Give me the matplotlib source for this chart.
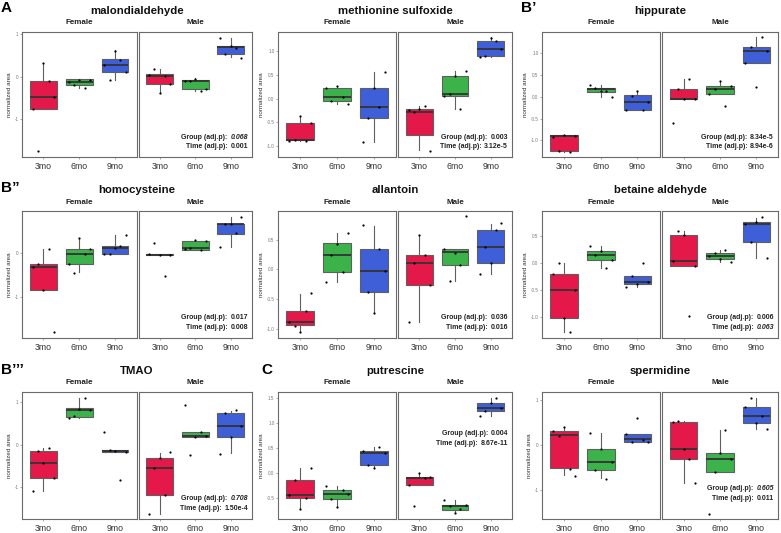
import matplotlib
matplotlib.use("Agg")
import matplotlib.pyplot as plt

plt.rcParams['font.family'] = ['Liberation Sans', 'DejaVu Sans']

# ---------------- data ----------------
groups = ['3mo', '6mo', '9mo']
sexes = ['Female', 'Male']
# order within each list: Female 3mo, 6mo, 9mo, Male 3mo, 6mo, 9mo
# box stats: [lower whisker, Q1, median, Q3, upper whisker]

mda_box = [[-0.75, -0.75, -0.49, -0.10, 0.31], [-0.27, -0.20, -0.12, -0.06, -0.06], [-0.08, 0.10, 0.28, 0.41, 0.63],
           [-0.39, -0.18, 0.02, 0.06, 0.17], [-0.33, -0.28, -0.10, -0.09, -0.04], [0.46, 0.53, 0.69, 0.71, 0.91]]
mda_pts = [[-0.75, -1.76, 0.31, -0.11, -0.49], [-0.12, -0.19, -0.08, -0.27, -0.08], [0.28, -0.08, 0.61, 0.39, 0.11],
           [0.04, 0.18, -0.39, 0.02, -0.17], [-0.10, -0.10, -0.06, -0.33, -0.28], [0.92, 0.53, 0.71, 0.67, 0.45]]
mda_ylim = (-1.89, 1.05)
mda_ticks = [-1, 0, 1]

mets_box = [[-0.90, -0.88, -0.87, -0.51, -0.37], [-0.11, -0.05, 0.03, 0.22, 0.26], [-0.91, -0.40, -0.17, 0.22, 0.57],
            [-1.09, -0.76, -0.28, -0.22, -0.15], [-0.21, 0.06, 0.09, 0.48, 0.59], [0.88, 0.91, 1.06, 1.23, 1.30]]
mets_pts = [[-0.90, -0.87, -0.37, -0.89, -0.52], [0.22, -0.04, 0.26, 0.03, -0.11], [-0.92, -0.40, 0.22, -0.17, 0.57],
            [-0.24, -0.28, -0.22, -0.15, -1.10], [0.06, 0.09, 0.49, -0.21, 0.59], [0.88, 0.91, 1.28, 1.23, 1.06]]
mets_ylim = (-1.23, 1.41)
mets_ticks = [-1.0, -0.5, 0.0, 0.5, 1.0]

hipp_box = [[-1.26, -1.25, -0.90, -0.88, -0.88], [0.00, 0.10, 0.17, 0.19, 0.27], [-0.31, -0.31, -0.12, 0.04, 0.14],
            [-0.06, -0.06, -0.06, 0.17, 0.40], [0.06, 0.06, 0.17, 0.25, 0.37], [0.78, 0.78, 1.05, 1.14, 1.37]]
hipp_pts = [[-0.92, -1.25, -0.88, -1.26, -0.90], [0.27, 0.19, 0.14, 0.12, 0.00], [-0.31, 0.02, 0.14, -0.31, -0.12],
            [-0.60, 0.17, -0.06, 0.40, -0.06], [0.06, 0.17, 0.37, -0.22, 0.25], [0.78, 1.13, 0.22, 1.37, 1.05]]
hipp_ylim = (-1.38, 1.48)
hipp_ticks = [-1.0, -0.5, 0.0, 0.5, 1.0]

hcy_box = [[-0.83, -0.83, -0.32, -0.25, 0.08], [-0.44, -0.25, -0.02, 0.08, 0.32], [-0.02, -0.02, 0.11, 0.15, 0.39],
           [-0.06, -0.06, -0.04, -0.03, -0.03], [0.06, 0.06, 0.11, 0.26, 0.29], [0.13, 0.43, 0.64, 0.65, 0.80]]
hcy_pts = [[-0.32, -0.26, -0.83, 0.09, -1.79], [-0.25, -0.45, 0.33, -0.02, 0.08], [-0.02, -0.03, 0.11, 0.15, 0.41],
           [-0.03, 0.23, -0.04, -0.53, -0.06], [0.08, 0.11, 0.29, 0.06, 0.26], [0.13, 0.64, 0.65, 0.44, 0.80]]
hcy_ylim = (-1.92, 0.94)
hcy_ticks = [-1, 0]

alla_box = [[-1.06, -0.94, -0.89, -0.71, -0.41], [-0.21, -0.05, 0.25, 0.44, 0.62], [-0.73, -0.38, -0.02, 0.34, 0.73],
            [-0.89, -0.26, 0.11, 0.25, 0.59], [-0.19, 0.07, 0.29, 0.35, 0.35], [-0.07, 0.11, 0.38, 0.67, 0.77]]
alla_pts = [[-0.89, -0.95, -1.06, -0.71, -0.40], [-0.21, 0.25, 0.43, -0.05, 0.62], [0.75, -0.38, -0.73, 0.34, -0.02],
            [-0.89, 0.11, 0.59, 0.25, -0.26], [0.35, -0.19, 0.28, 0.07, 0.90], [-0.07, 0.38, 0.11, 0.67, 0.79]]
alla_ylim = (-1.16, 0.99)
alla_ticks = [-1.0, -0.5, 0.0, 0.5]

bet_box = [[-1.29, -1.02, -0.50, -0.20, 0.00], [-0.09, 0.06, 0.14, 0.22, 0.32], [-0.45, -0.40, -0.35, -0.24, -0.24],
           [-0.06, -0.06, 0.04, 0.52, 0.59], [0.02, 0.07, 0.13, 0.19, 0.25], [0.09, 0.39, 0.72, 0.76, 0.84]]
bet_pts = [[-0.20, 0.00, -1.02, -1.29, -0.50], [0.32, 0.14, 0.22, -0.09, 0.06], [-0.45, -0.25, -0.40, 0.00, -0.35],
           [0.04, 0.59, 0.52, -0.99, -0.06], [0.13, 0.19, 0.07, 0.25, 0.02], [0.72, 0.39, 0.76, 0.86, 0.09]]
bet_ylim = (-1.40, 0.97)
bet_ticks = [-1.0, -0.5, 0.0, 0.5]

tmao_box = [[-1.09, -0.79, -0.43, -0.16, -0.08], [0.63, 0.65, 0.81, 0.87, 1.10], [-0.18, -0.18, -0.16, -0.13, -0.13],
            [-1.64, -1.18, -0.54, -0.31, -0.20], [0.17, 0.17, 0.20, 0.30, 0.30], [-0.20, 0.19, 0.45, 0.75, 0.80]]
tmao_pts = [[-1.09, -0.16, -0.43, -0.08, -0.79], [0.63, 0.67, 0.84, 1.10, 0.81], [0.29, -0.13, -0.16, -0.83, -0.17],
            [-1.64, -0.54, -0.31, -1.18, -0.18], [0.93, -0.24, 0.17, 0.30, 0.20], [-0.21, 0.75, 0.17, 0.81, 0.45]]
tmao_ylim = (-1.75, 1.24)
tmao_ticks = [-1, 0, 1]

put_box = [[-0.72, -0.50, -0.43, -0.13, 0.11], [-0.68, -0.51, -0.41, -0.33, -0.26], [0.11, 0.16, 0.40, 0.43, 0.51],
           [-0.24, -0.23, -0.10, -0.07, 0.00], [-0.79, -0.73, -0.65, -0.63, -0.54], [1.14, 1.23, 1.29, 1.40, 1.50]]
put_pts = [[-0.43, -0.13, -0.72, -0.50, 0.11], [-0.26, -0.51, -0.68, -0.33, -0.41], [0.43, 0.16, 0.11, 0.51, 0.40],
           [-0.24, -0.66, 0.00, -0.10, -0.07], [-0.53, -0.65, -0.80, -0.72, -0.63], [1.14, 1.23, 1.40, 1.50, 1.29]]
put_ylim = (-0.91, 1.61)
put_ticks = [-0.5, 0.0, 0.5, 1.0, 1.5]

spd_box = [[-0.67, -0.52, 0.21, 0.30, 0.39], [-0.74, -0.56, -0.37, -0.09, 0.26], [0.06, 0.06, 0.12, 0.25, 0.25],
           [-0.84, -0.32, -0.09, 0.50, 0.52], [-0.61, -0.61, -0.31, -0.19, 0.33], [0.36, 0.48, 0.65, 0.84, 1.04]]
spd_pts = [[0.30, 0.20, 0.39, -0.53, -0.68], [0.27, -0.56, -0.09, -0.76, -0.37], [0.25, 0.06, 0.59, 0.11, 0.06],
           [0.50, 0.52, -0.09, -0.32, -0.84], [-1.52, -0.61, -0.19, 0.33, -0.31], [0.84, 1.04, 0.48, 0.65, 0.36]]
spd_ylim = (-1.64, 1.17)
spd_ticks = [-1, 0, 1]

# p-values: (text, italic)
mda_p = [('0.068', True), ('0.001', False)]
mets_p = [('0.003', False), ('3.12e-5', False)]
hipp_p = [('8.34e-5', False), ('8.94e-6', False)]
hcy_p = [('0.017', False), ('0.008', False)]
alla_p = [('0.036', False), ('0.016', False)]
bet_p = [('0.006', False), ('0.063', True)]
tmao_p = [('0.708', True), ('1.50e-4', False)]
put_p = [('0.004', False), ('8.67e-11', False)]
spd_p = [('0.605', True), ('0.011', False)]

panels = [
    ('malondialdehyde', mda_box, mda_pts, mda_ylim, mda_ticks, mda_p),
    ('methionine sulfoxide', mets_box, mets_pts, mets_ylim, mets_ticks, mets_p),
    ('hippurate', hipp_box, hipp_pts, hipp_ylim, hipp_ticks, hipp_p),
    ('homocysteine', hcy_box, hcy_pts, hcy_ylim, hcy_ticks, hcy_p),
    ('allantoin', alla_box, alla_pts, alla_ylim, alla_ticks, alla_p),
    ('betaine aldehyde', bet_box, bet_pts, bet_ylim, bet_ticks, bet_p),
    ('TMAO', tmao_box, tmao_pts, tmao_ylim, tmao_ticks, tmao_p),
    ('putrescine', put_box, put_pts, put_ylim, put_ticks, put_p),
    ('spermidine', spd_box, spd_pts, spd_ylim, spd_ticks, spd_p),
]
panel_letters = [('A', 0, 0), ('B\u2019', 0, 2), ('B\u201d', 1, 0), ('B\u2019\u2019\u2019', 2, 0), ('C', 2, 1)]

# ---------------- layout (pixels) ----------------
W, H = 781, 533
col_x = [(22, 136.5, 138.5, 252), (278, 396, 398, 512), (542, 659.5, 662, 778)]
row_y = [(32, 157), (211, 338), (392, 519)]
annot_y = [(0.13, 0.058)] * 7 + [(0.645, 0.567), (0.213, 0.135)]
fill_colors = ['#E5184A', '#3BB34A', '#3E5FD8']
edge = '#5f5f5f'
jitter = [-0.3, -0.15, 0.0, 0.15, 0.3]

fig = plt.figure(figsize=(W / 100, H / 100), dpi=100)


def px_axes(x0, x1, y0, y1):
    return fig.add_axes([x0 / W, 1 - y1 / H, (x1 - x0) / W, (y1 - y0) / H])


def fmt(t, ticks):
    if all(float(v).is_integer() for v in ticks):
        return '%d' % t
    return '%.1f' % t


for idx, (name, box, pts, ylim, ticks, pvals) in enumerate(panels):
    r, c = divmod(idx, 3)
    fx0, fx1, mx0, mx1 = col_x[c]
    top, bot = row_y[r]
    axes = [px_axes(fx0, fx1, top, bot), px_axes(mx0, mx1, top, bot)]
    for s, ax in enumerate(axes):
        stats = []
        for g in range(3):
            lo, q1, med, q3, hi = box[s * 3 + g]
            stats.append(dict(whislo=lo, q1=q1, med=med, q3=q3, whishi=hi, fliers=[]))
        bp = ax.bxp(stats, positions=[1, 2, 3], widths=0.75, patch_artist=True,
                    showfliers=False, showcaps=False,
                    boxprops=dict(edgecolor=edge, linewidth=0.8),
                    whiskerprops=dict(color=edge, linewidth=0.8),
                    medianprops=dict(color='#333333', linewidth=1.3))
        for patch, col in zip(bp['boxes'], fill_colors):
            patch.set_facecolor(col)
        for g in range(3):
            vals = pts[s * 3 + g]
            xs = [g + 1 + jitter[i] for i in range(len(vals))]
            ax.plot(xs, vals, 'o', color='black', markersize=1.6, markeredgewidth=0, zorder=5)
        ax.set_xlim(0.4, 3.6)
        ax.set_ylim(*ylim)
        ax.set_xticks([1, 2, 3])
        ax.set_xticklabels(groups)
        ax.tick_params(axis='x', length=1.5, width=0.5, color='#888888', labelsize=6.3,
                       labelcolor='#333333', pad=2)
        ax.set_yticks(ticks)
        if s == 0:
            ax.set_yticklabels([fmt(t, ticks) for t in ticks])
            ax.tick_params(axis='y', length=1.5, width=0.5, color='#888888', labelsize=3.3,
                           labelcolor='#777777', pad=1)
            ax.set_ylabel('normalized area', fontsize=4.5, color='#333333', labelpad=2)
        else:
            ax.tick_params(axis='y', length=0, labelleft=False)
        for sp in ax.spines.values():
            sp.set_color('#6a6a6a')
            sp.set_linewidth(0.8)
        ax.set_facecolor('white')
        ax.text(0.5, 1.0 + 9 / (bot - top), sexes[s], transform=ax.transAxes, ha='center', va='center',
                fontsize=5.8, fontweight='bold', color='#222222')
    # title
    fig.text(((fx0 + mx1) / 2) / W, 1 - (top - 21) / H, name, ha='center', va='center',
             fontsize=8.2, fontweight='bold', color='#111111')
    # p-value annotations in male facet
    axm = axes[1]
    for (val, ital), lab, yy in zip(pvals, ['Group (adj.p): ', 'Time (adj.p): '], annot_y[idx]):
        tv = axm.text(0.965, yy, val, transform=axm.transAxes, ha='right', va='bottom',
                      fontsize=5.0, fontweight='bold', fontstyle='italic' if ital else 'normal',
                      color='#222222', zorder=6)
        axm.annotate(lab.strip(), xy=(0, 0), xycoords=tv, xytext=(-2.0, 0), textcoords='offset points',
                     ha='right', va='bottom', fontsize=5.0, fontweight='bold', color='#222222',
                     annotation_clip=False, zorder=6)

# panel letters
letter_pos = {(0, 0): (1, 8), (0, 2): (521, 8), (1, 0): (1, 188), (2, 0): (1, 370), (2, 1): (261, 370)}
for lab, r, c in panel_letters:
    x, y = letter_pos[(r, c)]
    fig.text(x / W, 1 - y / H, lab, ha='left', va='center', fontsize=11, fontweight='bold', color='black')

fig.savefig('out.png', dpi=100, facecolor='white')
